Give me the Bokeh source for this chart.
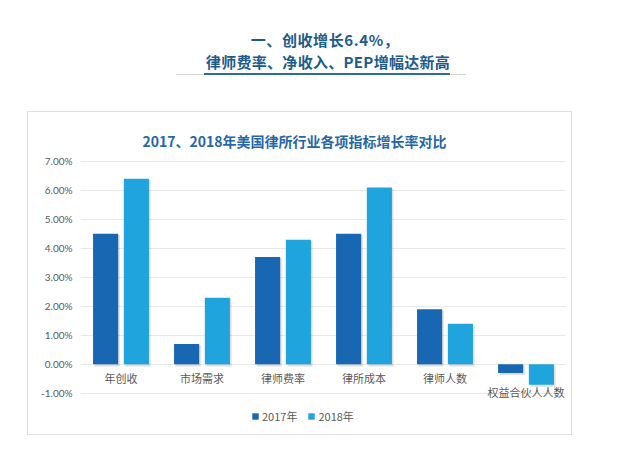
from bokeh.plotting import figure
from bokeh.models import (FactorRange, Range1d, FixedTicker, PrintfTickFormatter,
                          Legend, LegendItem, ColumnDataSource, Div)
from bokeh.layouts import column
from bokeh.transform import dodge
from bokeh.core.properties import value
from bokeh.embed import file_html
from bokeh.resources import INLINE

categories = ["年创收", "市场需求", "律师费率", "律所成本", "律师人数", "权益合伙人人数"]
growth_2017 = [4.5, 0.7, 3.7, 4.5, 1.9, -0.3]
growth_2018 = [6.4, 2.3, 4.3, 6.1, 1.4, -0.7]
y_ticks = [-1, 0, 1, 2, 3, 4, 5, 6, 7]
series_names = ["2017年", "2018年"]
page_title_1 = "一、创收增长6.4%，"
page_title_2 = "律师费率、净收入、PEP增幅达新高"
chart_title = "2017、2018年美国律所行业各项指标增长率对比"

CJK = "Noto Sans CJK SC"
C17 = "#1767b2"
C18 = "#1fa4dd"
GRAY = "#595959"
HEAD = "#1d5b8a"

label_y = [min(0, a, b) for a, b in zip(growth_2017, growth_2018)]
label_off = [6 if m == 0 else -1 for m in label_y]
sh_top17 = [max(v, 0) - 0.04 for v in growth_2017]
sh_bot17 = [min(v, 0) - 0.07 for v in growth_2017]
sh_top18 = [max(v, 0) - 0.04 for v in growth_2018]
sh_bot18 = [min(v, 0) - 0.07 for v in growth_2018]
src = ColumnDataSource(dict(cat=categories, v17=growth_2017, v18=growth_2018, ly=label_y,
                            lo=label_off,
                            st17=sh_top17, sb17=sh_bot17, st18=sh_top18, sb18=sh_bot18))

# ---- page heading (HTML text) ----
head_html = f"""
<div style="position:relative;width:624px;height:111px;font-family:'{CJK}';font-weight:bold;color:{HEAD};">
  <div style="position:absolute;left:0;top:29px;width:650px;text-align:center;font-size:15px;line-height:22px;letter-spacing:0.6px;">{page_title_1}</div>
  <div style="position:absolute;left:0;top:51px;width:656px;text-align:center;font-size:15px;line-height:22px;letter-spacing:0.3px;">{page_title_2}</div>
  <div style="position:absolute;left:176px;top:74px;width:290px;height:1px;background:#d6d6d6;"></div>
  <div style="position:absolute;left:204px;top:73px;width:246px;height:2px;background:#2a6ca3;"></div>
</div>
"""
head = Div(text=head_html, width=624, height=111, margin=(0, 0, 0, 0))

# ---- chart ----
FW, FH = 543, 322
p = figure(x_range=FactorRange(*categories), y_range=Range1d(7.03 - 272 / 29, 7.03),
           width=FW, height=FH, output_backend="svg", toolbar_location=None,
           min_border_left=52, min_border_right=5, min_border_top=48, min_border_bottom=2,
           background_fill_color="white", border_fill_color="white", outline_line_color=None,
           margin=(1, 0, 0, 28),
           styles={"box-shadow": "0 0 0 1px #e0e0e0"})

p.title.text = chart_title
p.title.align = "left"
p.title.offset = 62
p.title.standoff = 20
p.title.text_font = CJK
p.title.text_font_size = "14px"
p.title.text_font_style = "bold"
p.title.text_color = "#2767a6"

# bar shadows
p.vbar(x=dodge("cat", -0.17, range=p.x_range), top="st17", bottom="sb17", width=0.31,
       source=src, fill_color="#000000", fill_alpha=0.13, line_color=None)
p.vbar(x=dodge("cat", 0.21, range=p.x_range), top="st18", bottom="sb18", width=0.31,
       source=src, fill_color="#000000", fill_alpha=0.13, line_color=None)

# bars
r17 = p.vbar(x=dodge("cat", -0.19, range=p.x_range), top="v17", bottom=0, width=0.31,
             source=src, fill_color=C17, line_color=None)
r18 = p.vbar(x=dodge("cat", 0.19, range=p.x_range), top="v18", bottom=0, width=0.31,
             source=src, fill_color=C18, line_color=None)

# category labels
p.text(x="cat", y="ly", text="cat", source=src, text_align="center", text_baseline="top",
       y_offset="lo", text_font=value(CJK), text_font_size="11px", text_color=GRAY)

# axes
p.xaxis.visible = False
p.yaxis.ticker = FixedTicker(ticks=y_ticks)
p.yaxis.formatter = PrintfTickFormatter(format="%.2f%%")
p.yaxis.axis_line_color = None
p.yaxis.major_tick_line_color = None
p.yaxis.minor_tick_line_color = None
p.yaxis.major_label_text_font = "Lato"
p.yaxis.major_label_text_font_size = "10px"
p.yaxis.major_label_text_color = GRAY
p.yaxis.major_label_standoff = 2
p.xgrid.grid_line_color = None
p.ygrid.ticker = FixedTicker(ticks=y_ticks)
p.ygrid.grid_line_color = "#e8e8e8"

# legend
legend = Legend(items=[LegendItem(label=series_names[0], renderers=[r17]),
                       LegendItem(label=series_names[1], renderers=[r18])],
                orientation="horizontal", location=(171, 8),
                glyph_width=8, glyph_height=8, label_text_font=CJK, label_text_font_size="11px",
                label_text_color=GRAY, border_line_color=None, background_fill_alpha=0,
                padding=2, spacing=10, label_standoff=3, margin=0)
p.add_layout(legend)

layout = column(head, p, spacing=0)
open("out.html", "w").write(file_html(layout, INLINE))
